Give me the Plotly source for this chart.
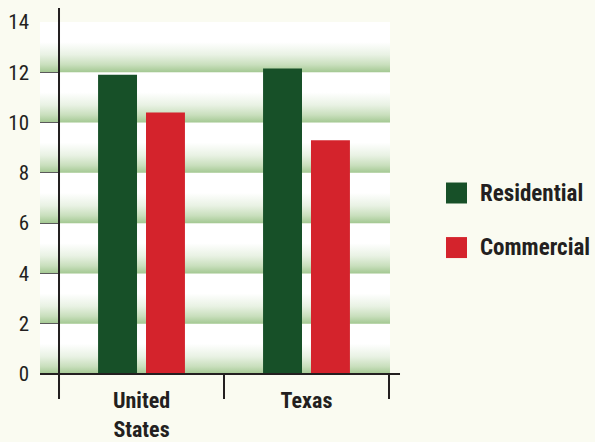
import plotly.graph_objects as go

categories = ["United<br>States", "Texas"]
series_names = ["Residential", "Commercial"]
residential = [11.9, 12.15]
commercial = [10.4, 9.3]
y_ticks = [0, 2, 4, 6, 8, 10, 12, 14]

colors = ["#175028", "#d4232c"]
bg = "#fafbf1"
ink = "#231f20"
font_reg = "Roboto Condensed, Roboto, sans-serif"

# x range: plot area spans a bit left of the first category boundary
x_min, x_max = -0.6152, 1.5061
bar_w, bar_gap = 0.236, 0.0545

fig = go.Figure()

# gradient bands behind the bars (white on top fading to green at the bottom)
band_scale = [[0, "#a3c892"], [0.15, "#c9dfbd"], [0.35, "#e9f2e4"],
              [0.6, "#ffffff"], [1, "#ffffff"]]
for lo, hi in zip(y_ticks[:-1], y_ticks[1:]):
    fig.add_trace(go.Scatter(
        x=[x_min, x_max, x_max, x_min, x_min], y=[lo, lo, hi, hi, lo],
        mode="lines", line=dict(width=0), fill="toself",
        fillgradient=dict(type="vertical", colorscale=band_scale),
        hoverinfo="skip", showlegend=False))

# bars live on an overlaid x axis so they sit above the bands
offsets = [-bar_w - bar_gap / 2, bar_gap / 2]
for name, vals, col, off in zip(series_names, [residential, commercial], colors, offsets):
    fig.add_trace(go.Bar(x=list(range(len(categories))), y=vals, name=name, xaxis="x2",
                         width=bar_w, offset=off,
                         marker=dict(color=col, line=dict(width=0)), showlegend=False))

shapes = [
    dict(type="line", xref="x", yref="paper", x0=-0.5, x1=-0.5, y0=-0.068, y1=1.04,
         line=dict(color=ink, width=2)),
    dict(type="line", xref="paper", yref="paper", x0=0, x1=1.0286, y0=0, y1=0,
         line=dict(color=ink, width=2)),
]
annotations = []
for i, (name, col) in enumerate(zip(series_names, colors)):
    yc = 0.5142 - i * 0.155
    shapes.append(dict(type="rect", xref="paper", yref="paper",
                       x0=1.16, x1=1.22, y0=yc - 0.0298, y1=yc + 0.0298,
                       fillcolor=col, line=dict(width=0)))
    annotations.append(dict(xref="paper", yref="paper", x=1.2514, y=yc,
                            xanchor="left", yanchor="middle", showarrow=False,
                            text=f"<b>{name}</b>",
                            font=dict(family=font_reg, size=23, color=ink)))

fig.update_layout(
    width=595, height=442,
    margin=dict(l=40, r=205, t=22, b=68, autoexpand=False),
    paper_bgcolor=bg, plot_bgcolor=bg,
    barmode="overlay",
    shapes=shapes, annotations=annotations,
    showlegend=False,
    font=dict(family=font_reg, color=ink),
    xaxis=dict(
        range=[x_min, x_max], tickmode="array", automargin=False,
        tickvals=list(range(len(categories))),
        ticktext=[f"<b>{c}</b>" for c in categories],
        tickfont=dict(size=22, color=ink),
        ticks="outside", ticklen=7, tickcolor="rgba(0,0,0,0)",
        minor=dict(tickmode="array", tickvals=[-0.5, 0.5, 1.5], ticks="outside",
                   ticklen=24, tickwidth=2, tickcolor=ink),
        showgrid=False, zeroline=False, showline=False,
    ),
    xaxis2=dict(overlaying="x", range=[x_min, x_max], visible=False),
    yaxis=dict(
        range=[0, 14], tickmode="array", tickvals=y_ticks, automargin=False,
        tickfont=dict(size=21, color=ink),
        ticks="inside", ticklen=19, tickwidth=1.3, tickcolor="#5a5a5a",
        ticklabelstandoff=10,
        showgrid=False, zeroline=False, showline=False,
    ),
)

# drop the default page margin so the figure sits at the window's corner
fig.write_html("out.html", config={"displayModeBar": False},
               post_script="document.body.style.margin='0';")
